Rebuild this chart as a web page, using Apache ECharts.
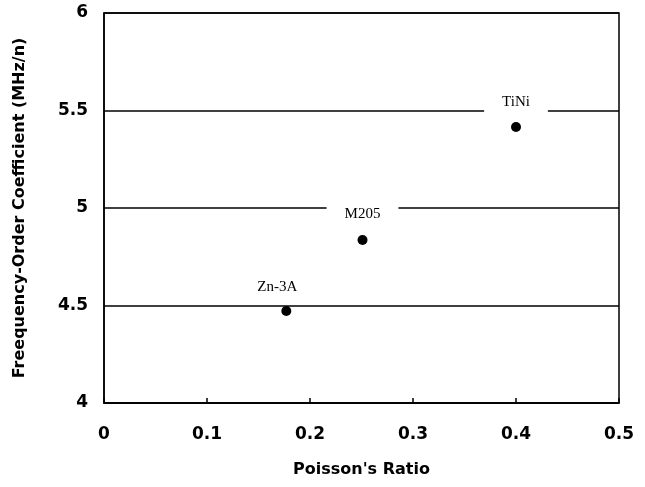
<!DOCTYPE html>
<html>
<head>
<meta charset="utf-8">
<script src="https://cdn.jsdelivr.net/npm/echarts@6/dist/echarts.min.js"></script>
<style>
  html, body { margin: 0; padding: 0; background: #fff; }
  #main { width: 645px; height: 487px; }
</style>
</head>
<body>
<div id="main"></div>
<script>
  // 材料名・ポアソン比・周波数次数係数
  var materials = ['Zn-3A', 'M205', 'TiNi'];
  var poisson = [0.177, 0.251, 0.400];
  var coeff = [4.472, 4.836, 5.415];

  var chart = echarts.init(document.getElementById('main'));

  var points = materials.map(function (name, i) {
    return { name: name, value: [poisson[i], coeff[i]] };
  });
  // ラベル位置の微調整
  points[0].label = { offset: [-9, 2] };

  var sansBold = '"DejaVu Sans", sans-serif';
  var tickFont = {
    color: '#000',
    fontFamily: sansBold,
    fontWeight: 'bold',
    fontSize: 17
  };

  var option = {
    backgroundColor: '#fff',
    animation: false,
    grid: {
      left: 104, right: 26, top: 13, bottom: 84,
      show: true, borderColor: '#000', borderWidth: 1.5
    },
    xAxis: {
      type: 'value', min: 0, max: 0.5, interval: 0.1,
      name: "Poisson's Ratio",
      nameLocation: 'middle', nameGap: 59,
      nameTextStyle: {
        color: '#000', fontFamily: sansBold,
        fontWeight: 'bold', fontSize: 16
      },
      axisLine: { show: true, lineStyle: { color: '#000', width: 1.5 } },
      axisTick: { show: true, inside: true, length: 5, lineStyle: { color: '#000', width: 1.5 } },
      axisLabel: Object.assign({ margin: 23 }, tickFont),
      splitLine: { show: false }
    },
    yAxis: {
      type: 'value', min: 4, max: 6, interval: 0.5,
      name: 'Freequency-Order Coefficient (MHz/n)',
      nameLocation: 'middle', nameGap: 76,
      nameTextStyle: {
        color: '#000', fontFamily: sansBold,
        fontWeight: 'bold', fontSize: 16
      },
      axisLine: { show: true, lineStyle: { color: '#000', width: 1.5 } },
      axisTick: { show: false },
      axisLabel: Object.assign({ margin: 16 }, tickFont),
      splitLine: { show: true, lineStyle: { color: '#000', width: 1.5 } }
    },
    series: [{
      type: 'scatter',
      symbol: 'circle',
      symbolSize: 10,
      itemStyle: { color: '#000', opacity: 1 },
      emphasis: { disabled: true },
      data: points,
      label: {
        show: true,
        position: 'top',
        distance: 7,
        formatter: '{b}',
        color: '#000',
        fontFamily: '"Liberation Serif", "DejaVu Serif", serif',
        fontSize: 15,
        backgroundColor: '#ffffff',
        padding: [4, 18, 6, 18]
      }
    }]
  };

  chart.setOption(option);
</script>
</body>
</html>
